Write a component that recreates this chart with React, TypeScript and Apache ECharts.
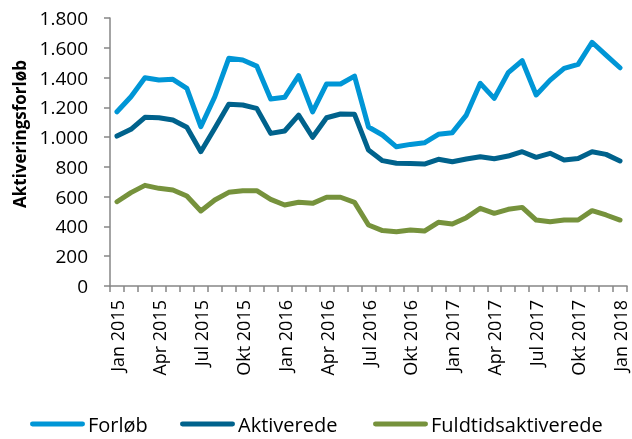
import React, { useEffect, useRef } from "react";
import * as echarts from "echarts";

const categories = [
  "Jan 2015", "Feb 2015", "Mar 2015", "Apr 2015", "Maj 2015", "Jun 2015",
  "Jul 2015", "Aug 2015", "Sep 2015", "Okt 2015", "Nov 2015", "Dec 2015",
  "Jan 2016", "Feb 2016", "Mar 2016", "Apr 2016", "Maj 2016", "Jun 2016",
  "Jul 2016", "Aug 2016", "Sep 2016", "Okt 2016", "Nov 2016", "Dec 2016",
  "Jan 2017", "Feb 2017", "Mar 2017", "Apr 2017", "Maj 2017", "Jun 2017",
  "Jul 2017", "Aug 2017", "Sep 2017", "Okt 2017", "Nov 2017", "Dec 2017",
  "Jan 2018",
];

const forloeb = [
  1170, 1271, 1399, 1383, 1388, 1327, 1070, 1271, 1529, 1518, 1477, 1256,
  1267, 1413, 1170, 1357, 1357, 1410, 1068, 1014, 935, 951, 962, 1019,
  1030, 1148, 1361, 1260, 1433, 1513, 1283, 1383, 1462, 1489, 1637, 1551,
  1466,
];

const aktiverede = [
  1007, 1052, 1133, 1130, 1115, 1066, 902, 1059, 1220, 1216, 1193, 1025,
  1041, 1148, 999, 1130, 1155, 1153, 913, 842, 824, 822, 819, 851,
  835, 853, 868, 855, 873, 902, 864, 891, 846, 857, 902, 884,
  840,
];

const fuldtid = [
  566, 627, 676, 656, 645, 604, 504, 578, 629, 640, 640, 582,
  544, 562, 555, 596, 596, 562, 410, 372, 365, 376, 369, 428,
  416, 459, 522, 488, 515, 528, 443, 432, 443, 443, 506, 477,
  443,
];

const seriesNames = ["Forløb", "Aktiverede", "Fuldtidsaktiverede"];
const colors = ["#0096D6", "#00628C", "#76923C"];
const yTitle = "Aktiveringsforløb";

const FONT = "'Open Sans', sans-serif";

export default function App() {
  const ref = useRef<HTMLDivElement>(null);
  useEffect(() => {
    if (!ref.current) return;
    const chart = echarts.init(ref.current, null, { renderer: "svg" });
    const data = [forloeb, aktiverede, fuldtid];
    const legendLefts = [30, 180, 373];
    chart.setOption({
      animation: false,
      textStyle: { fontFamily: FONT },
      grid: { left: 110, right: 5, top: 18, bottom: 153 },
      legend: seriesNames.map((n, i) => ({
        data: [{ name: n, icon: "path://M2,0 L53,0 A2.5,2.5 0 0 1 53,5 L2,5 A2.5,2.5 0 0 1 2,0 Z" }],
        left: legendLefts[i],
        top: 414,
        itemWidth: 55,
        itemHeight: 5,
        itemGap: 0,
        padding: 0,
        textStyle: { fontSize: 20, color: "#000", fontFamily: FONT, padding: [0, 0, 0, -2] },
      })),
      graphic: [
        {
          type: "text",
          x: 19,
          y: 134,
          rotation: Math.PI / 2,
          style: {
            text: yTitle,
            fontSize: 17,
            fontWeight: "bold",
            fontFamily: FONT,
            fill: "#000",
            align: "center",
            verticalAlign: "middle",
          },
        },
      ],
      xAxis: {
        type: "category",
        data: categories,
        boundaryGap: true,
        axisLine: { lineStyle: { color: "#868686", width: 1.5 } },
        axisTick: { show: true, interval: 0, length: 6, lineStyle: { color: "#868686", width: 1.5 } },
        axisLabel: {
          interval: 2,
          rotate: 90,
          margin: 14,
          fontSize: 18,
          color: "#000",
          fontFamily: FONT,
        },
        splitLine: { show: false },
      },
      yAxis: {
        type: "value",
        min: 0,
        max: 1800,
        interval: 200,
        axisLine: { show: true, lineStyle: { color: "#868686", width: 1.5 } },
        axisTick: { show: true, length: 6, lineStyle: { color: "#868686", width: 1.5 } },
        axisLabel: {
          margin: 22,
          fontSize: 19,
          color: "#000",
          fontFamily: FONT,
          formatter: (v: number) => String(v).replace(/\B(?=(\d{3})+(?!\d))/g, "."),
        },
        splitLine: { show: false },
      },
      series: seriesNames.map((n, i) => ({
        name: n,
        type: "line",
        data: data[i],
        color: colors[i],
        showSymbol: false,
        symbol: "none",
        lineStyle: { width: 5, color: colors[i], cap: "round", join: "round" },
      })),
    });
    return () => chart.dispose();
  }, []);
  return (
    <div
      ref={ref}
      style={{ position: "fixed", left: 0, top: 0, width: 632, height: 439 }}
    />
  );
}
